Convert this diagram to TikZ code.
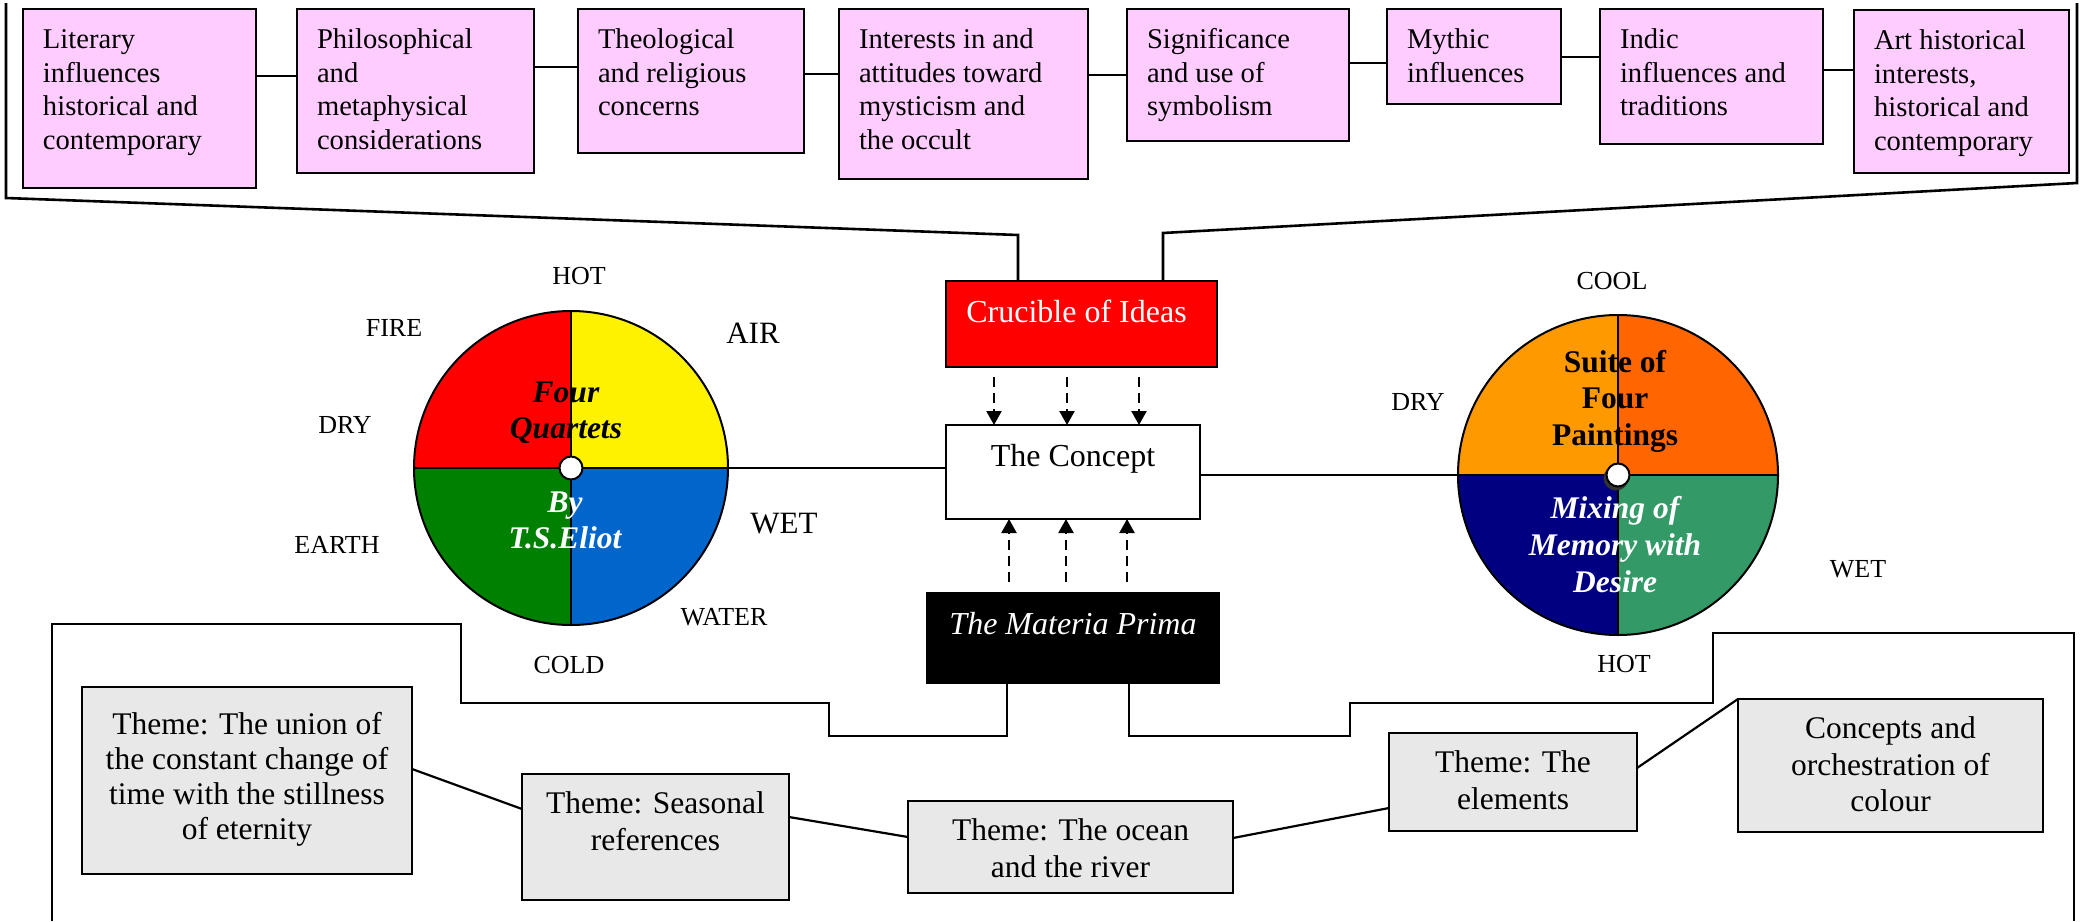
\documentclass[tikz,border=0pt]{standalone}
\usepackage{fontspec}
\setmainfont{Liberation Serif}
\usetikzlibrary{arrows.meta}

\definecolor{pinkbox}{RGB}{255,204,255}
\definecolor{themegray}{RGB}{232,232,232}
\definecolor{wblue}{RGB}{0,102,204}
\definecolor{wgreen}{RGB}{0,128,0}
\definecolor{porange}{RGB}{255,153,0}
\definecolor{pflame}{RGB}{255,102,0}
\definecolor{pnavy}{RGB}{0,0,128}
\definecolor{psea}{RGB}{51,153,102}

% fixed-size box body: width, height, alignment, top gap, text
\newcommand\fixbox[5]{\parbox[c][#2][t]{#1}{#3\vspace*{#4}\strut #5\par}}
% horizontal link between two neighbouring boxes, #3 below the first box's top
\newcommand\joinboxes[3]{\path ([yshift=-#3]#1.north east) coordinate (j#1);
  \draw[joinline] (j#1) -- (j#1 -| #2.west);}

\tikzset{
  every node/.style={inner sep=0pt, outer sep=0pt},
  topbox/.style={draw, fill=pinkbox, line width=2.4pt, anchor=north west,
    font=\fontsize{28.6}{33.7}\selectfont},
  themebox/.style={draw, fill=themegray, line width=2.4pt, anchor=north west,
    font=\fontsize{31.5}{36.6}\selectfont},
  hubbox/.style={draw, line width=2.4pt, anchor=north west,
    font=\fontsize{32}{37}\selectfont},
  joinline/.style={line width=2.2pt},
  bracketline/.style={line width=2.6pt},
  flowarrow/.style={line width=2.3pt, dash pattern=on 10pt off 6pt,
    -{Triangle[width=15pt,length=14pt]}},
  polelabel/.style={font=\fontsize{26}{30}\selectfont},
  bigpole/.style={font=\fontsize{31}{36}\selectfont},
  wheeltext/.style={anchor=base, font=\fontsize{31.5}{36.5}\selectfont\bfseries\itshape},
  wheelrim/.style={circle, draw, line width=2pt},
  hubdot/.style={circle, draw, fill=white, line width=2pt, minimum size=23pt},
}

\begin{document}
\begin{tikzpicture}[x=1pt, y=-1pt]
\useasboundingbox (0,0) rectangle (2085,921);

% ---------- row of influences ----------
\node[topbox] (lit) at (23,9) {\fixbox{233pt}{179pt}{\raggedright\leftskip=20pt}{15.9pt}{Literary\\influences\\historical and\\contemporary}};
\node[topbox] (phil) at (297,9) {\fixbox{237pt}{164pt}{\raggedright\leftskip=20pt}{15.9pt}{Philosophical\\and\\metaphysical\\considerations}};
\node[topbox] (theo) at (578,9) {\fixbox{226pt}{144pt}{\raggedright\leftskip=20pt}{15.9pt}{Theological\\and religious\\concerns}};
\node[topbox] (myst) at (839,9) {\fixbox{249pt}{170pt}{\raggedright\leftskip=20pt}{15.9pt}{Interests in and\\attitudes toward\\mysticism and\\the occult}};
\node[topbox] (symb) at (1127,9) {\fixbox{222pt}{132pt}{\raggedright\leftskip=20pt}{15.9pt}{Significance\\and use of\\symbolism}};
\node[topbox] (myth) at (1387,9) {\fixbox{174pt}{95pt}{\raggedright\leftskip=20pt}{15.9pt}{Mythic\\influences}};
\node[topbox] (indic) at (1600,9) {\fixbox{223pt}{135pt}{\raggedright\leftskip=20pt}{15.9pt}{Indic\\influences and\\traditions}};
\node[topbox] (art) at (1854,10) {\fixbox{215pt}{163pt}{\raggedright\leftskip=20pt}{15.9pt}{Art historical\\interests,\\historical and\\contemporary}};

\joinboxes{lit}{phil}{67pt}
\joinboxes{phil}{theo}{58pt}
\joinboxes{theo}{myst}{65pt}
\joinboxes{myst}{symb}{66pt}
\joinboxes{symb}{myth}{54pt}
\joinboxes{myth}{indic}{48pt}
\joinboxes{indic}{art}{61pt}

% ---------- central column ----------
\node[hubbox, fill=red, text=white] (crucible) at (946,281)
  {\fixbox{271pt}{86pt}{\centering}{15.1pt}{\hspace*{-10pt}Crucible of Ideas}};
\node[hubbox, fill=white] (concept) at (946,425)
  {\fixbox{254pt}{94pt}{\centering}{15.1pt}{The Concept}};
\node[hubbox, fill=black, text=white] (materia) at (927,593)
  {\fixbox{292pt}{90pt}{\centering}{15.1pt}{\itshape The Materia Prima}};

% brackets gathering the influences into the crucible
\coordinate (ltop) at (6,3);
\coordinate (lbot) at (6,198);
\coordinate (ljoin) at (1018,235);
\draw[bracketline] (ltop) -- (lbot) -- (ljoin) -- (ljoin |- crucible.north);
\coordinate (rtop) at (2077,3);
\coordinate (rbot) at (2077,183);
\coordinate (rjoin) at (1163,233);
\draw[bracketline] (rtop) -- (rbot) -- (rjoin) -- (rjoin |- crucible.north);

% dashed flows into the concept
\foreach \xx [count=\i] in {994,1067,1139} {
  \coordinate (dn\i) at (\xx,0);
  \draw[flowarrow, shorten <=10pt] (crucible.south -| dn\i) -- (concept.north -| dn\i);
}
\foreach \xx [count=\i] in {1009,1066,1127} {
  \coordinate (up\i) at (\xx,0);
  \draw[flowarrow, shorten <=11pt] (materia.north -| up\i) -- (concept.south -| up\i);
}

% ---------- wheel of the elements: Four Quartets ----------
\begin{scope}
  \clip (571,468) circle[radius=157];
  \fill[red] (571,468) rectangle ++(-170,-170);
  \fill[yellow] (571,468) rectangle ++(170,-170);
  \fill[wgreen] (571,468) rectangle ++(-170,170);
  \fill[wblue] (571,468) rectangle ++(170,170);
\end{scope}
\node[wheelrim, minimum size=314pt] (w1) at (571,468) {};
\draw[line width=2pt] (w1.north) -- (w1.south) (w1.west) -- (w1.east);
\node[hubdot] (hub1) at (w1.center) {};
\node[wheeltext] (quartets) at (566,402) {\parbox[t]{220pt}{\centering Four\\Quartets}};
\node[wheeltext, text=white] (eliot) at (565,512) {\parbox[t]{220pt}{\centering By\\T.S.Eliot}};

\node[polelabel] (hot1) at (579,276) {HOT};
\node[polelabel] (fire) at (394,328) {FIRE};
\node[bigpole] (air) at (753,333) {AIR};
\node[polelabel] (dry1) at (345,425) {DRY};
\node[polelabel] (earth) at (337,545) {EARTH};
\node[bigpole] (wet1) at (784,524) {WET};
\node[polelabel] (water) at (724,617) {WATER};
\node[polelabel] (cold) at (569,665) {COLD};

% ---------- wheel of the paintings ----------
\begin{scope}
  \clip (1618,475) circle[radius=160];
  \fill[porange] (1618,475) rectangle ++(-170,-170);
  \fill[pflame] (1618,475) rectangle ++(170,-170);
  \fill[pnavy] (1618,475) rectangle ++(-170,170);
  \fill[psea] (1618,475) rectangle ++(170,170);
\end{scope}
\node[wheelrim, minimum size=320pt] (w2) at (1618,475) {};
\draw[line width=2pt] (w2.north) -- (w2.south) (w2.west) -- (w2.east);
\fill[black!80] (1616,478) circle[radius=12.5];
\node[hubdot] (hub2) at (w2.center) {};
\node[wheeltext, font=\fontsize{31.5}{36.5}\selectfont\bfseries] (suite) at (1615,372)
  {\parbox[t]{240pt}{\centering Suite of\\Four\\Paintings}};
\node[wheeltext, text=white, font=\fontsize{31.5}{37}\selectfont\bfseries\itshape] (mixing) at (1615,518)
  {\parbox[t]{240pt}{\centering Mixing of\\Memory with\\Desire}};

\node[polelabel] (cool) at (1612,281) {COOL};
\node[polelabel] (dry2) at (1418,402) {DRY};
\node[polelabel] (wet2) at (1858,569) {WET};
\node[polelabel] (hot2) at (1624,664) {HOT};

% wheels joined to the concept
\draw[joinline] (w1.east) -- (w1.east -| concept.west);
\draw[joinline] (w2.west -| concept.east) -- (w2.west);

% ---------- themes ----------
\node[themebox, font=\fontsize{31.5}{35}\selectfont] (union) at (82,687)
  {\fixbox{330pt}{187pt}{\centering}{23pt}{Theme: The union of\\the constant change of\\time with the stillness\\of eternity}};
\node[themebox] (seasonal) at (522,774)
  {\fixbox{267pt}{126pt}{\centering}{13.9pt}{Theme: Seasonal\\references}};
\node[themebox] (ocean) at (908,801)
  {\fixbox{325pt}{92pt}{\centering}{13.9pt}{Theme: The ocean\\and the river}};
\node[themebox] (elements) at (1389,733)
  {\fixbox{248pt}{98pt}{\centering}{13.9pt}{Theme: The\\elements}};
\node[themebox] (colour) at (1738,699)
  {\fixbox{305pt}{133pt}{\centering}{13.9pt}{Concepts and\\orchestration of\\colour}};

\draw[joinline] ([yshift=-82pt]union.north east) -- ([yshift=-35pt]seasonal.north west);
\draw[joinline] ([yshift=-43pt]seasonal.north east) -- ([yshift=-36pt]ocean.north west);
\draw[joinline] ([yshift=-37pt]ocean.north east) -- ([yshift=-75pt]elements.north west);
\draw[joinline] ([yshift=-35pt]elements.north east) -- (colour.north west);

% stepped lines leading down from the materia prima
\coordinate (mleft) at (1007,0);
\coordinate (mright) at (1129,0);
\draw[bracketline] (materia.south -| mleft) -- (1007,736) -- (829,736) -- (829,703)
  -- (461,703) -- (461,624) -- (52,624) -- (52,921);
\draw[bracketline] (materia.south -| mright) -- (1129,736) -- (1350,736) -- (1350,703)
  -- (1713,703) -- (1713,633) -- (2074,633) -- (2074,921);

\end{tikzpicture}
\end{document}
